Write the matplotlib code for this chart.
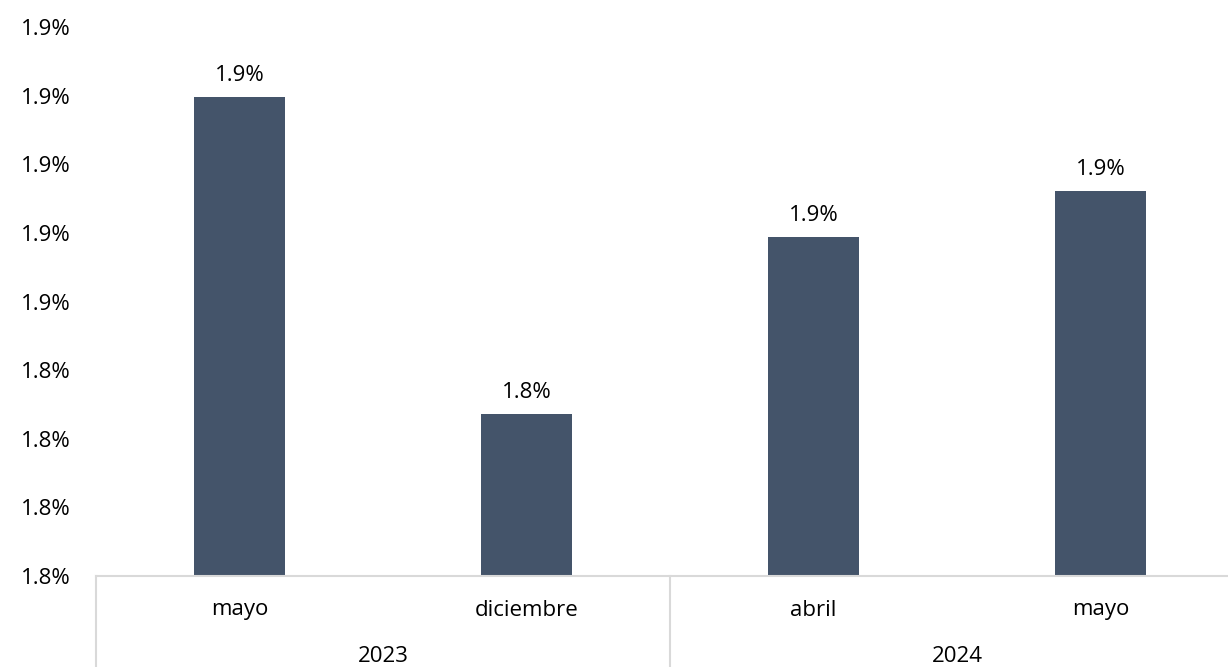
import matplotlib
matplotlib.use("Agg")
import matplotlib.pyplot as plt
from matplotlib.ticker import FuncFormatter, MultipleLocator

months = ["mayo", "diciembre", "abril", "mayo"]
years = ["2023", "2024"]
months_per_year = [2, 2]
values = [1.8798, 1.8336, 1.8594, 1.8661]
labels = ["1.9%", "1.8%", "1.9%", "1.9%"]

plt.rcParams['font.family'] = ['Open Sans', 'DejaVu Sans']
FS = 16
W, H = 1228, 667
fig = plt.figure(figsize=(W / 100, H / 100), dpi=100)
left, right, bottom, top = 96, 1244, 576, 27
ax = fig.add_axes([left / W, 1 - bottom / H, (right - left) / W, (bottom - top) / H])

bar_color = "#44546A"
x = list(range(len(values)))
bars = ax.bar(x, values, width=0.317, color=bar_color, zorder=2)
ax.set_xlim(-0.5, len(values) - 0.5)
ax.set_ylim(1.81, 1.89)
ax.yaxis.set_major_locator(MultipleLocator(0.01))
ax.yaxis.set_major_formatter(FuncFormatter(lambda v, p: f"{v:.1f}%"))
ax.tick_params(axis='y', length=0, pad=18, labelsize=FS, labelcolor="#000000")
ax.set_xticks([])
for s in ["left", "right", "top"]:
    ax.spines[s].set_visible(False)
ax.spines["bottom"].set_color("#d9d9d9")
ax.spines["bottom"].set_linewidth(1.5)

for b, lab in zip(bars, labels):
    ax.annotate(lab, (b.get_x() + b.get_width() / 2, b.get_height()),
                xytext=(0, 8), textcoords="offset points", ha="center", va="bottom",
                fontsize=FS, color="#000000")

trans = ax.get_xaxis_transform()
px = 1.0 / (bottom - top)
for i, m in enumerate(months):
    ax.text(i, -(610 - bottom) * px, m, transform=trans, ha="center", va="center",
            fontsize=FS, color="#000000", clip_on=False)
start = 0
bounds = [-0.5]
for yr, n in zip(years, months_per_year):
    center = start + (n - 1) / 2
    ax.text(center, -(657 - bottom) * px, yr, transform=trans, ha="center", va="center",
            fontsize=FS, color="#000000", clip_on=False)
    start += n
    bounds.append(start - 0.5)
for bx in bounds:
    ax.plot([bx, bx], [0, -(H - bottom) * px], transform=trans, color="#d9d9d9",
            linewidth=1.5, clip_on=False)

fig.savefig("out.png", dpi=100)
